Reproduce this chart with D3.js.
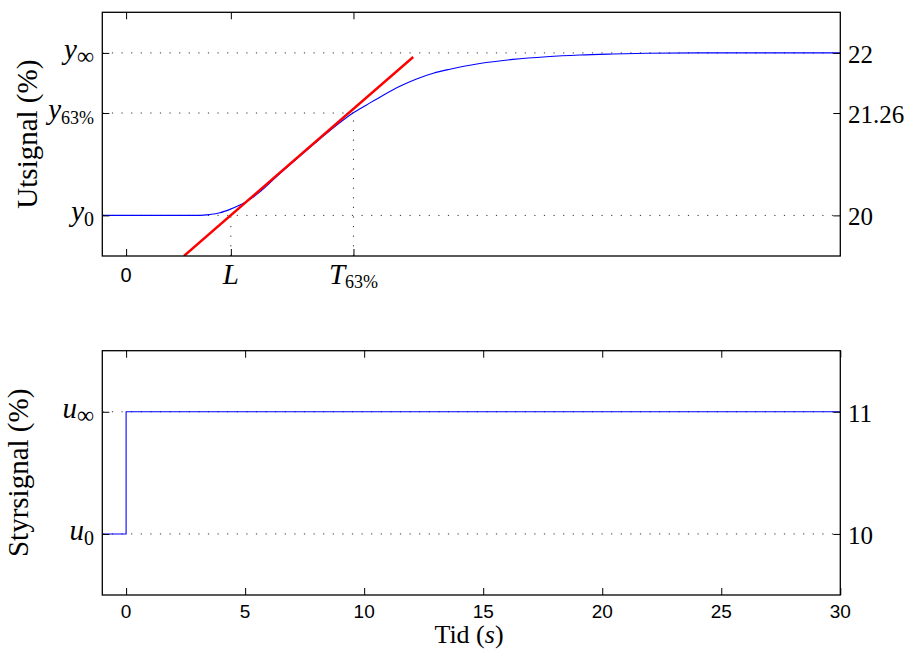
<!DOCTYPE html>
<html><head><meta charset="utf-8">
<script src="https://cdn.jsdelivr.net/npm/d3@7"></script>
<style>body{margin:0;background:#fff}svg{display:block}</style>
</head><body>
<svg id="c" width="913" height="650"></svg>
<script>
// ---- data ----
const respT = [-1,0,1,2,3.1,3.5,3.94,4.36,4.78,5.2,5.62,6.4,7.3,8.14,8.97,9.5,10.1,10.8,11.5,12.2,12.9,13.6,14.86,16.25,17.66,19.06,20.45,21.88,24,27,30];
const respY = [20,20,20,20,20,20.01,20.032,20.074,20.127,20.197,20.29,20.5,20.73,20.94,21.14,21.255,21.36,21.48,21.59,21.68,21.75,21.80,21.87,21.92,21.953,21.974,21.986,21.995,22,22,22];
const tangentT = [2.43, 12.06];
const tangentY = [19.5, 21.95];
const stepT = [-1, 0, 0, 30];
const stepU = [10, 10, 11, 11];
const L = 4.4, T63 = 9.55;
const y0 = 20, y63 = 21.26, yInf = 22;
const u0 = 10, uInf = 11;
const topXTicks = [0, L, T63];
const topRightLabels = ["20", "21.26", "22"];
const botXTicks = [0, 5, 10, 15, 20, 25, 30];
const botRightLabels = ["10", "11"];

// ---- layout ----
const svg = d3.select("#c");
const x = d3.scaleLinear([-1, 30], [102.3, 840.3]);
const yT = d3.scaleLinear([19.5, 22.5], [256, 12.3]);
const yB = d3.scaleLinear([9.5, 11.5], [595, 350.7]);
const serif = "'Liberation Serif', 'Times New Roman', serif";
const sans = "'Liberation Sans', Arial, sans-serif";
const dotted = "1.2,8.4";

svg.append("defs").call(d => {
  d.append("clipPath").attr("id","clipT").append("rect")
    .attr("x",x.range()[0]).attr("y",yT.range()[1]).attr("width",x.range()[1]-x.range()[0]).attr("height",yT.range()[0]-yT.range()[1]);
  d.append("clipPath").attr("id","clipB").append("rect")
    .attr("x",x.range()[0]).attr("y",yB.range()[1]).attr("width",x.range()[1]-x.range()[0]).attr("height",yB.range()[0]-yB.range()[1]);
});

function dline(g, x1, y1, x2, y2) {
  g.append("line").attr("x1",x1).attr("y1",y1).attr("x2",x2).attr("y2",y2)
    .attr("stroke","#333").attr("stroke-width",1).attr("stroke-dasharray",dotted);
}

function axes(g, y, xt, yt) {
  const [xl, xr] = x.range(); const [yb, ytop] = y.range();
  g.append("g").attr("transform",`translate(0,${yb})`).call(d3.axisBottom(x).tickValues(xt).tickSizeInner(-7).tickSizeOuter(0).tickFormat(""));
  g.append("g").attr("transform",`translate(0,${ytop})`).call(d3.axisTop(x).tickValues(xt).tickSizeInner(-7).tickSizeOuter(0).tickFormat(""));
  g.append("g").attr("transform",`translate(${xl},0)`).call(d3.axisLeft(y).tickValues(yt).tickSizeInner(-7).tickSizeOuter(0).tickFormat(""));
  g.append("g").attr("transform",`translate(${xr},0)`).call(d3.axisRight(y).tickValues(yt).tickSizeInner(-7).tickSizeOuter(0).tickFormat(""));
  g.selectAll(".domain").remove();
  g.selectAll(".tick line").attr("stroke","#000").attr("stroke-width",1);
  g.append("rect").attr("x",xl).attr("y",ytop).attr("width",xr-xl).attr("height",yb-ytop)
    .attr("fill","none").attr("stroke","#000").attr("stroke-width",1.3);
}

// ---- top plot ----
const gT = svg.append("g");
dline(gT, x(-1), yT(yInf), x(30), yT(yInf));
dline(gT, x(-1), yT(y63), x(T63), yT(y63));
dline(gT, x(-1), yT(y0), x(30), yT(y0));
dline(gT, x(L), yT(19.5), x(L), yT(y0));
dline(gT, x(T63), yT(19.5), x(T63), yT(y63));

const respData = respT.map((t,i)=>[t, respY[i]]);
gT.append("path").datum(respData).attr("clip-path","url(#clipT)")
  .attr("d", d3.line().x(d=>x(d[0])).y(d=>yT(d[1])).curve(d3.curveMonotoneX))
  .attr("fill","none").attr("stroke","#0000ff").attr("stroke-width",1.1);
const tanData = tangentT.map((t,i)=>[t, tangentY[i]]);
gT.append("path").datum(tanData).attr("clip-path","url(#clipT)")
  .attr("d", d3.line().x(d=>x(d[0])).y(d=>yT(d[1])))
  .attr("fill","none").attr("stroke","#ff0000").attr("stroke-width",2.4);

axes(gT, yT, topXTicks, [y0, y63, yInf]);

// top x labels
gT.append("text").attr("x",x(0)).attr("y",yT(19.5)+26).attr("text-anchor","middle")
  .attr("font-family",sans).attr("font-size",20).text("0");
gT.append("text").attr("x",x(L)).attr("y",yT(19.5)+28).attr("text-anchor","middle")
  .attr("font-family",serif).attr("font-style","italic").attr("font-size",29).text("L");
const tl = gT.append("text").attr("x",x(T63)).attr("y",yT(19.5)+28).attr("text-anchor","middle")
  .attr("font-family",serif).attr("font-size",29);
tl.append("tspan").attr("font-style","italic").text("T");
tl.append("tspan").attr("font-size",18).attr("dy",4).text("63%");

// left labels
function subLabel(g, xpos, ypos, main, sub, subSize) {
  const t = g.append("text").attr("x",xpos).attr("y",ypos).attr("text-anchor","end")
    .attr("font-family",serif).attr("font-size",29);
  t.append("tspan").attr("font-style","italic").text(main);
  t.append("tspan").attr("font-size",subSize).attr("dy",5).text(sub);
}
subLabel(gT, 94, yT(yInf)+6, "y", "∞", 24);
subLabel(gT, 94, yT(y63)+6, "y", "63%", 18);
subLabel(gT, 94, yT(y0)+6, "y", "0", 20);

// right labels
gT.selectAll("text.rl").data([y0, y63, yInf]).join("text").attr("class","rl")
  .attr("x",848).attr("y",d=>yT(d)+10).attr("font-family",serif).attr("font-size",25)
  .text((d,i)=>topRightLabels[i]);

gT.append("text").attr("transform",`translate(37,${(yT.range()[0]+yT.range()[1])/2}) rotate(-90)`)
  .attr("text-anchor","middle").attr("font-family",serif).attr("font-size",29).text("Utsignal (%)");

// ---- bottom plot ----
const gB = svg.append("g");
dline(gB, x(-1), yB(u0), x(30), yB(u0));
dline(gB, x(-1), yB(uInf), x(30), yB(uInf));
const stepData = stepT.map((t,i)=>[t, stepU[i]]);
gB.append("path").datum(stepData).attr("clip-path","url(#clipB)")
  .attr("d", d3.line().x(d=>x(d[0])).y(d=>yB(d[1])))
  .attr("fill","none").attr("stroke","#0000ff").attr("stroke-width",1.1);

axes(gB, yB, botXTicks, [u0, uInf]);

gB.selectAll("text.xl").data(botXTicks).join("text").attr("class","xl")
  .attr("x",d=>x(d)).attr("y",yB(9.5)+23).attr("text-anchor","middle")
  .attr("font-family",sans).attr("font-size",19).text(d=>d);

subLabel(gB, 94, yB(uInf)+6, "u", "∞", 24);
subLabel(gB, 94, yB(u0)+6, "u", "0", 20);

gB.selectAll("text.rl").data([u0, uInf]).join("text").attr("class","rl")
  .attr("x",848).attr("y",d=>yB(d)+10).attr("font-family",serif).attr("font-size",25)
  .text((d,i)=>botRightLabels[i]);

gB.append("text").attr("transform",`translate(28,${(yB.range()[0]+yB.range()[1])/2}) rotate(-90)`)
  .attr("text-anchor","middle").attr("font-family",serif).attr("font-size",29).text("Styrsignal (%)");

const xl = gB.append("text").attr("x",469).attr("y",643).attr("text-anchor","middle")
  .attr("font-family",serif).attr("font-size",26);
xl.append("tspan").text("Tid (");
xl.append("tspan").attr("font-style","italic").text("s");
xl.append("tspan").text(")");
</script>
</body></html>
